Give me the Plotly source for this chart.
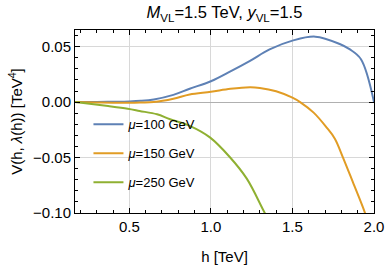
import plotly.graph_objects as go

# data
h_blue = [0.167, 0.3, 0.4, 0.5, 0.57, 0.65, 0.77, 0.87, 1.0, 1.12, 1.24, 1.36, 1.5, 1.64, 1.79, 1.85, 1.92, 2.0]
v_blue = [0.0, 0.0001, 0.0003, 0.0006, 0.0011, 0.0024, 0.0065, 0.012, 0.0188, 0.0277, 0.0372, 0.0475, 0.0554, 0.059, 0.0524, 0.0477, 0.0387, 0.0]

h_orange = [0.167, 0.3, 0.45, 0.57, 0.65, 0.77, 0.87, 1.0, 1.12, 1.24, 1.3, 1.4, 1.5, 1.547, 1.63, 1.71, 1.76, 1.81, 1.87, 1.945, 2.0]
v_orange = [0.0, -0.0004, -0.0007, -0.0004, 0.0, 0.003, 0.0069, 0.0093, 0.012, 0.0134, 0.0128, 0.0098, 0.004, 0.0, -0.0095, -0.023, -0.033, -0.05, -0.072, -0.10, -0.125]

h_green = [0.167, 0.37, 0.49, 0.563, 0.67, 0.75, 0.87, 0.994, 1.117, 1.22, 1.32, 1.4]
v_green = [0.0, -0.0036, -0.006, -0.008, -0.011, -0.0155, -0.0214, -0.0318, -0.0497, -0.069, -0.097, -0.12]

labels = ["<i>μ</i>=100 GeV", "<i>μ</i>=150 GeV", "<i>μ</i>=250 GeV"]
colors = ["#5E81B5", "#E19C24", "#8FB032"]

FONT = "Liberation Sans, Arial, sans-serif"

fig = go.Figure()
for i, (hx, vy) in enumerate([(h_blue, v_blue), (h_orange, v_orange), (h_green, v_green)]):
    fig.add_trace(go.Scatter(
        x=hx, y=vy, mode="lines", name=labels[i], legendgroup=str(i),
        line=dict(color=colors[i], width=2, shape="spline", smoothing=1.0),
    ))

axis_common = dict(
    showline=True, linecolor="black", linewidth=1, mirror="ticks",
    ticks="inside", ticklen=5, tickcolor="black",
    showgrid=True, gridcolor="#d8d8d8", gridwidth=1,
    tickfont=dict(family=FONT, size=15, color="black"),
    ticklabeloverflow="allow", automargin=False,
)

fig.update_xaxes(
    range=[0.167, 2.0], tickvals=[0.5, 1.0, 1.5, 2.0], tickformat=".1f",
    minor=dict(ticks="inside", ticklen=3, tickcolor="black", dtick=0.1, tick0=0, showgrid=False),
    title=dict(text="h [TeV]", font=dict(family=FONT, size=15, color="black"), standoff=17),
    zeroline=False,
    **axis_common,
)
fig.update_yaxes(
    range=[-0.10, 0.065], tickvals=[-0.10, -0.05, 0.0, 0.05], tickformat=".2f",
    minor=dict(ticks="inside", ticklen=3, tickcolor="black", dtick=0.01, tick0=0, showgrid=False),
    title=dict(text="V(h, <i>λ</i>(h)) [TeV<sup>4</sup>]", font=dict(family=FONT, size=15, color="black"), standoff=6),
    zeroline=True, zerolinecolor="#b0b0b0", zerolinewidth=1,
    **axis_common,
)

fig.update_layout(
    width=387, height=265,
    margin=dict(l=75, r=13, t=30, b=52),
    plot_bgcolor="white", paper_bgcolor="white",
    font=dict(family=FONT, color="black"),
    title=dict(text="<i>M</i><sub>VL</sub>=1.5 TeV, <i>y</i><sub>VL</sub>=1.5",
               x=0.58, xanchor="center", y=0.952, yanchor="middle",
               font=dict(family=FONT, size=16.5, color="black")),
    showlegend=True,
    legend=dict(x=0.045, y=0.566, xanchor="left", yanchor="top",
                bgcolor="rgba(0,0,0,0)", font=dict(family=FONT, size=13, color="black"),
                tracegroupgap=9),
)

fig.write_html("out.html", config={"displayModeBar": False},
               post_script="document.body.style.margin='0px';")
